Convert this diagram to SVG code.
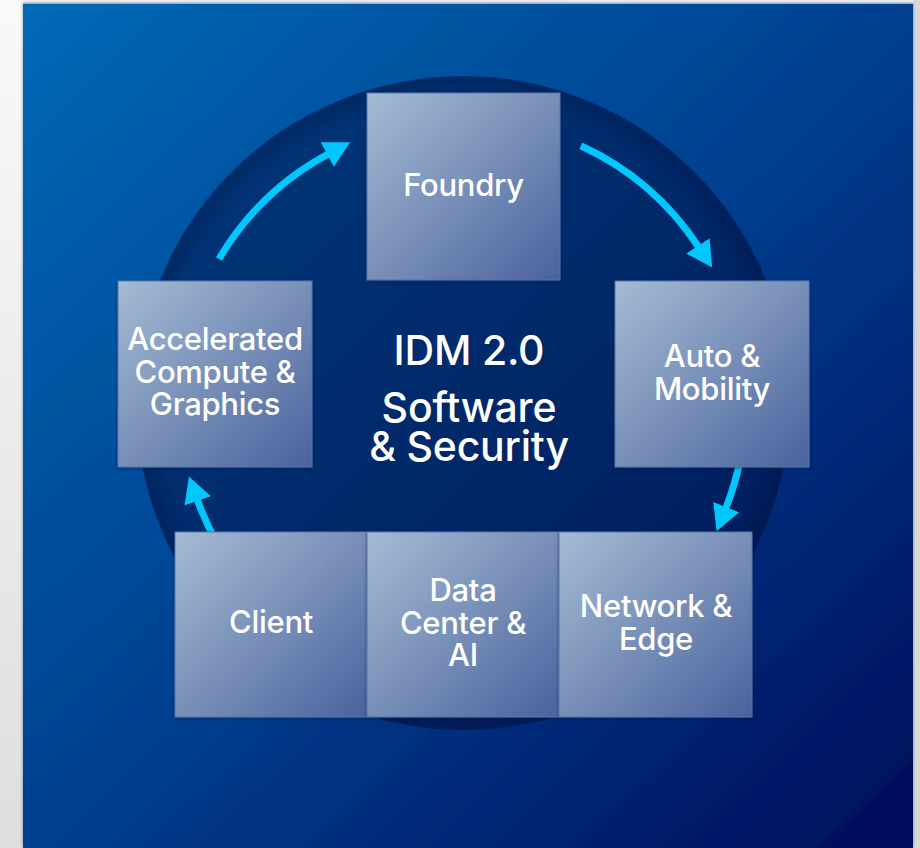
<svg xmlns="http://www.w3.org/2000/svg" width="920" height="848" viewBox="0 0 920 848">
  <defs>
    <linearGradient id="leftStrip" x1="0" y1="0" x2="0" y2="1">
      <stop offset="0" stop-color="#f9f9f9"/>
      <stop offset="1" stop-color="#dedede"/>
    </linearGradient>
    <linearGradient id="panelGrad" x1="0" y1="0" x2="1" y2="1">
      <stop offset="0" stop-color="#0069b6"/>
      <stop offset="0.5" stop-color="#00408f"/>
      <stop offset="1" stop-color="#000c5a"/>
    </linearGradient>
    <linearGradient id="circleGrad" x1="0" y1="0" x2="1" y2="1">
      <stop offset="0" stop-color="#003a7c"/>
      <stop offset="1" stop-color="#001858"/>
    </linearGradient>
    <radialGradient id="circleEdge" cx="0.5" cy="0.5" r="0.5">
      <stop offset="0.92" stop-color="#000a30" stop-opacity="0"/>
      <stop offset="0.99" stop-color="#000a30" stop-opacity="0.25"/>
      <stop offset="1" stop-color="#000a30" stop-opacity="0.1"/>
    </radialGradient>
    <linearGradient id="boxGrad" x1="0" y1="0" x2="1" y2="1">
      <stop offset="0" stop-color="#a4bbd4"/>
      <stop offset="0.5" stop-color="#7890b8"/>
      <stop offset="1" stop-color="#4a629e"/>
    </linearGradient>
    <filter id="shadow" x="-10%" y="-10%" width="120%" height="120%">
      <feDropShadow dx="0" dy="1" stdDeviation="1.5" flood-color="#001040" flood-opacity="0.5"/>
    </filter>
    <filter id="panelShadow" x="-5%" y="-5%" width="110%" height="110%">
      <feDropShadow dx="0" dy="-1" stdDeviation="1.5" flood-color="#002040" flood-opacity="0.5"/>
    </filter>
    <marker id="head" markerUnits="userSpaceOnUse" markerWidth="28" markerHeight="30" refX="2" refY="15" orient="auto">
      <path d="M0,1 L26,15 L0,29 Z" fill="#00c7fd"/>
    </marker>
  </defs>
  <style>
    .box { fill: url(#boxGrad); stroke: #5a74a8; stroke-width: 1; filter: url(#shadow); }
    .lbl { font-family: Inter, "Open Sans", "Liberation Sans", sans-serif; font-weight: 500; font-size: 31px; fill: #ffffff; text-anchor: middle; letter-spacing: -0.3px; }
    .ctr { font-family: Inter, "Open Sans", "Liberation Sans", sans-serif; font-weight: 500; font-size: 41px; fill: #ffffff; text-anchor: middle; letter-spacing: -0.2px; }
    .arc { fill: none; stroke: #00c7fd; stroke-width: 7; marker-end: url(#head); }
  </style>

  <!-- page background -->
  <rect x="0" y="0" width="920" height="848" fill="#eef2f7"/>
  <rect x="0" y="0" width="23" height="848" fill="url(#leftStrip)"/>
  <rect x="913" y="0" width="7" height="848" fill="#d8d8d8"/>

  <!-- panel -->
  <rect x="23" y="4" width="890" height="844" fill="url(#panelGrad)" filter="url(#panelShadow)"/>

  <!-- big circle -->
  <circle cx="463" cy="403" r="327" fill="url(#circleGrad)"/>
  <circle cx="463" cy="403" r="327" fill="url(#circleEdge)"/>

  <!-- connectors -->
  <g id="connectors">
    <path class="arc" d="M219,259 A283,283 0 0 1 329,153.6"/>
    <path class="arc" d="M580.8,145.7 A283,283 0 0 1 699,247.5"/>
    <path class="arc" d="M740.8,457 A283,283 0 0 1 725.5,509"/>
    <path class="arc" d="M217.9,544.5 A283,283 0 0 1 197,499"/>
  </g>

  <!-- center label -->
  <g id="center">
    <text class="ctr" x="469" y="365">IDM 2.0</text>
    <text class="ctr" x="469" y="422">Software</text>
    <text class="ctr" x="469" y="461">&amp; Security</text>
  </g>

  <g id="foundry">
    <rect class="box" x="367" y="93" width="193" height="187"/>
    <text class="lbl" x="463.5" y="196">Foundry</text>
  </g>

  <g id="auto-mobility">
    <rect class="box" x="615" y="281" width="194" height="186"/>
    <text class="lbl" x="712" y="367">Auto &amp;</text>
    <text class="lbl" x="712" y="400">Mobility</text>
  </g>

  <g id="accelerated">
    <rect class="box" x="118" y="281" width="194" height="186"/>
    <text class="lbl" x="215" y="350">Accelerated</text>
    <text class="lbl" x="215" y="383">Compute &amp;</text>
    <text class="lbl" x="215" y="415">Graphics</text>
  </g>

  <g id="client">
    <rect class="box" x="175" y="532" width="192" height="185"/>
    <text class="lbl" x="271" y="633">Client</text>
  </g>

  <g id="data-center">
    <rect class="box" x="367" y="532" width="192" height="185"/>
    <text class="lbl" x="463" y="601">Data</text>
    <text class="lbl" x="463" y="634">Center &amp;</text>
    <text class="lbl" x="463" y="666">AI</text>
  </g>

  <g id="network-edge">
    <rect class="box" x="559" y="532" width="193" height="185"/>
    <text class="lbl" x="656" y="617">Network &amp;</text>
    <text class="lbl" x="656" y="650">Edge</text>
  </g>
</svg>
